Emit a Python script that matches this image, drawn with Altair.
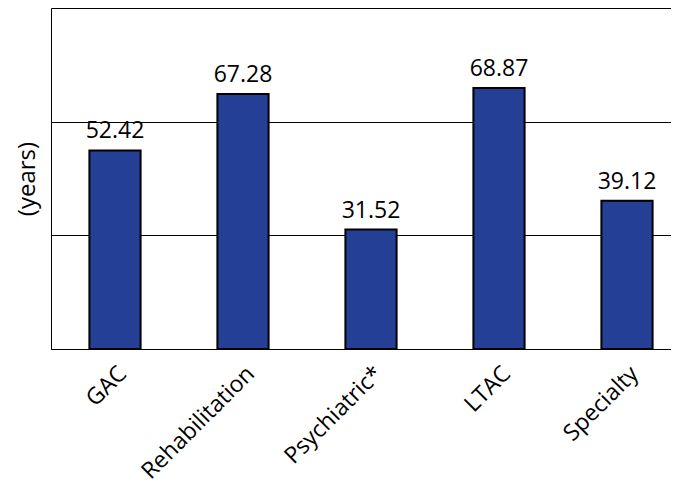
import altair as alt
import pandas as pd

categories = ["GAC", "Rehabilitation", "Psychiatric*", "LTAC", "Specialty"]
values = [52.42, 67.28, 31.52, 68.87, 39.12]
labels = ["52.42", "67.28", "31.52", "68.87", "39.12"]

df = pd.DataFrame({"cat": categories, "val": values, "lab": labels})

FONT = "Open Sans"
xscale = alt.Scale(paddingInner=0.6, paddingOuter=0.3, range=[0, 640])

x = alt.X("cat:N", sort=categories, title=None, scale=xscale,
          axis=alt.Axis(labelAngle=-45, labelFontSize=23, labelFont=FONT,
                        labelColor="black", ticks=False, domainColor="black",
                        domainWidth=1, labelPadding=13))
y = alt.Y("val:Q", title="(years)",
          scale=alt.Scale(domain=[0, 90], nice=False),
          axis=alt.Axis(values=[0, 30, 60, 90], labels=False, ticks=False,
                        grid=True, gridColor="black", gridWidth=1, gridOpacity=1,
                        domainColor="black", titleFontSize=24, titleFont=FONT,
                        titleFontWeight="normal", titleColor="black",
                        titlePadding=12))

bars = alt.Chart(df).mark_bar(color="#233f96", stroke="black", strokeWidth=2).encode(x=x, y=y)
text = alt.Chart(df).mark_text(dy=-7, baseline="bottom", fontSize=23, font=FONT,
                               color="black").encode(x=alt.X("cat:N", sort=categories, scale=xscale),
                                                     y="val:Q", text="lab:N")

chart = (bars + text).properties(
    width=620, height=341, autosize=alt.AutoSizeParams(type="none"),
    padding={"left": 43, "top": 0, "right": 0, "bottom": 136}
).configure_view(stroke=None).configure(background="white")

chart.save("out.html", embed_options={"renderer": "svg", "actions": False})
